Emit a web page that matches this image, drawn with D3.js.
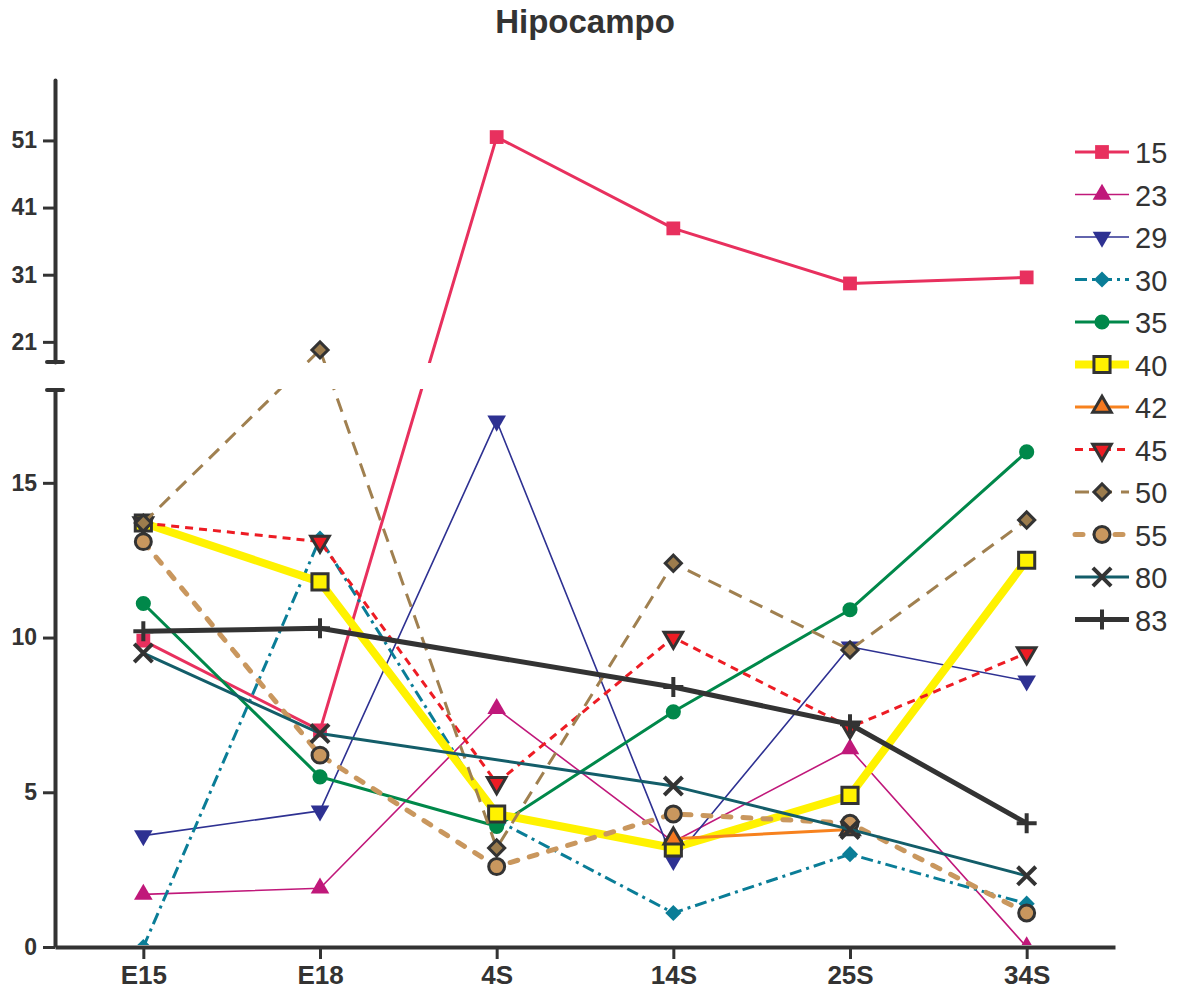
<!DOCTYPE html>
<html lang="en">
<head>
<meta charset="utf-8" />
<script src="https://d3js.org/d3.v7.min.js"></script>
<style>
  body { margin: 0; background: #fff; }
  text { font-family: "Liberation Sans", Arial, sans-serif; fill: #333; }
</style>
</head>
<body>
<script>
const categories = ["E15", "E18", "4S", "14S", "25S", "34S"];
const seriesNames = ["15", "23", "29", "30", "35", "40", "42", "45", "50", "55", "80", "83"];
const s15 = [9.9, 7.0, 51.5, 37.9, 29.7, 30.6];
const s23 = [1.7, 1.9, 7.7, 3.4, 6.4, 0];
const s29 = [3.6, 4.4, 17.0, 2.8, 9.7, 8.6];
const s30 = [0, 13.2, 4.1, 1.1, 3.0, 1.4];
const s35 = [11.1, 5.5, 3.9, 7.6, 10.9, 16.0];
const s40 = [13.7, 11.8, 4.3, 3.2, 4.9, 12.5];
const s42 = [null, null, null, 3.5, 3.8, null];
const s45 = [13.7, 13.1, 5.3, 10.0, 7.1, 9.5];
const s50 = [13.7, 19.8, 3.2, 12.4, 9.6, 13.8];
const s55 = [13.1, 6.2, 2.6, 4.3, 4.0, 1.1];
const s80 = [9.5, 6.9, null, 5.2, 3.8, 2.3];
const s83 = [10.2, 10.3, null, 8.4, 7.2, 4.0];
const lowTicks = [0, 5, 10, 15];
const highTicks = [21, 31, 41, 51];

const w = 1187, h = 991;
const axisColor = "#333";

// style per series: line colour, width, dash, marker shape, marker fill, marker stroke
const styles = [
    { c: "#e8305e", lw: 3, dash: null, m: "square", size: 190, fill: "#e8305e", st: "none" },
    { c: "#c0187a", lw: 1.6, dash: null, m: "up", size: 150, fill: "#c0187a", st: "none" },
    { c: "#2e3192", lw: 1.6, dash: null, m: "down", size: 150, fill: "#2e3192", st: "none" },
    { c: "#0a7d97", lw: 3, dash: "12,5,3,5", m: "diamond", size: 130, fill: "#0a7d97", st: "none" },
    { c: "#00884a", lw: 3, dash: null, m: "circle", size: 180, fill: "#00884a", st: "none" },
    { c: "#fff200", lw: 8, dash: null, m: "square", size: 260, fill: "#fff200", st: "#333" },
    { c: "#f7821e", lw: 3, dash: null, m: "up", size: 150, fill: "#f47920", st: "#333" },
    { c: "#ed1c24", lw: 3, dash: "8,6", m: "down", size: 150, fill: "#ed1c24", st: "#333" },
    { c: "#a08050", lw: 3, dash: "14,9", m: "diamond", size: 130, fill: "#9c7c4d", st: "#333" },
    { c: "#c9975e", lw: 5, dash: "8,12", m: "circle", size: 200, fill: "#c9975e", st: "#333" },
    { c: "#135d69", lw: 3, dash: null, m: "x", size: 26, fill: "none", st: "#333" },
    { c: "#333333", lw: 5, dash: null, m: "plus", size: 20, fill: "none", st: "#333" }
];
const allSeries = [s15, s23, s29, s30, s35, s40, s42, s45, s50, s55, s80, s83];

const x = d3.scalePoint().domain(categories).range([55, 1115]).padding(0.5);
const yLow = d3.scaleLinear().domain([0, 18]).range([947, 390]);
const yHigh = d3.scaleLinear().domain([18, 60]).range([362, 80]);
const y = v => v <= 18 ? yLow(v) : yHigh(v);

const svg = d3.select("body").append("svg")
    .attr("width", w)
    .attr("height", h);

svg.append("text")
    .attr("x", 585)
    .attr("y", 33)
    .attr("text-anchor", "middle")
    .style("font-size", "33px")
    .style("font-weight", "bold")
    .text("Hipocampo");

svg.append("clipPath").attr("id", "plot")
    .append("rect").attr("x", 0).attr("y", 0).attr("width", w).attr("height", 945);

function markerPath(m, size) {
    if (m === "square") return d3.symbol(d3.symbolSquare, size)();
    if (m === "up") return d3.symbol(d3.symbolTriangle, size)();
    if (m === "down") return d3.symbol(d3.symbolTriangle, size)();
    if (m === "diamond") return d3.symbol(d3.symbolSquare, size)();
    if (m === "circle") return d3.symbol(d3.symbolCircle, size)();
    const r = size / 2;
    if (m === "x") return `M${-r * 0.7},${-r * 0.7}L${r * 0.7},${r * 0.7}M${-r * 0.7},${r * 0.7}L${r * 0.7},${-r * 0.7}`;
    return `M${-r},0L${r},0M0,${-r}L0,${r}`;
}
function markerRotate(m) {
    if (m === "down") return 180;
    if (m === "diamond") return 45;
    return 0;
}

function drawMarker(g, st, cx, cy) {
    const p = g.append("path")
        .attr("d", markerPath(st.m, st.size))
        .attr("transform", `translate(${cx},${cy}) rotate(${markerRotate(st.m)})`);
    if (st.m === "x" || st.m === "plus") {
        p.attr("fill", "none").attr("stroke", st.st).attr("stroke-width", 4);
    } else {
        p.attr("fill", st.fill)
            .attr("stroke", st.st)
            .attr("stroke-width", st.st === "none" ? 0 : 3)
            .attr("stroke-linejoin", "miter");
    }
}

const plot = svg.append("g").attr("clip-path", "url(#plot)");
const line = d3.line().x(d => x(d.cat)).y(d => y(d.v));

allSeries.forEach((vals, i) => {
    const st = styles[i];
    const pts = vals.map((v, j) => ({ cat: categories[j], v: v })).filter(d => d.v !== null);
    const g = plot.append("g");
    g.append("path")
        .attr("d", line(pts))
        .attr("fill", "none")
        .attr("stroke", st.c)
        .attr("stroke-width", st.lw)
        .attr("stroke-dasharray", st.dash)
        .attr("stroke-linecap", st.dash && st.lw >= 5 ? "round" : "butt")
        .attr("stroke-linejoin", "round");
    pts.forEach(d => drawMarker(g, st, x(d.cat), y(d.v)));
});

// axis break mask
svg.append("rect")
    .attr("x", 57).attr("y", 363)
    .attr("width", 1005).attr("height", 26)
    .attr("fill", "#fff");

function styleAxis(g, size) {
    g.selectAll("path.domain").attr("stroke", axisColor).attr("stroke-width", 4).attr("stroke-linecap", "round");
    g.selectAll(".tick line").attr("stroke", axisColor).attr("stroke-width", 3);
    g.selectAll(".tick text")
        .style("font-size", size + "px")
        .style("font-weight", "bold")
        .attr("fill", axisColor);
}

const gLow = svg.append("g")
    .attr("transform", "translate(55,0)")
    .call(d3.axisLeft(yLow).tickValues(lowTicks).tickSizeInner(12).tickSizeOuter(0).tickPadding(6));
styleAxis(gLow, 23);
gLow.select("path.domain").attr("stroke-linecap", "butt");

const gHigh = svg.append("g")
    .attr("transform", "translate(55,0)")
    .call(d3.axisLeft(yHigh).tickValues(highTicks).tickSizeInner(12).tickSizeOuter(0).tickPadding(6));
styleAxis(gHigh, 23);

// break caps
[yLow(18), yHigh(18)].forEach(cy => {
    svg.append("line")
        .attr("x1", 47).attr("x2", 63)
        .attr("y1", cy).attr("y2", cy)
        .attr("stroke", axisColor)
        .attr("stroke-width", 4)
        .attr("stroke-linecap", "round");
});

const gx = svg.append("g")
    .attr("transform", "translate(0,947)")
    .call(d3.axisBottom(x).tickSizeInner(12).tickSizeOuter(0).tickPadding(7));
styleAxis(gx, 26);
gx.select("path.domain").attr("stroke-linecap", "butt");

// legend
const legend = svg.append("g");
seriesNames.forEach((name, i) => {
    const st = styles[i];
    const ly = 152 + i * 42.5;
    const g = legend.append("g");
    g.append("line")
        .attr("x1", 1075).attr("x2", 1129)
        .attr("y1", ly).attr("y2", ly)
        .attr("stroke", st.c)
        .attr("stroke-width", st.lw)
        .attr("stroke-dasharray", st.dash)
        .attr("stroke-linecap", st.dash && st.lw >= 5 ? "round" : "butt");
    drawMarker(g, st, 1102, ly);
    g.append("text")
        .attr("x", 1135)
        .attr("y", ly + 11)
        .style("font-size", "29px")
        .text(name);
});
</script>
</body>
</html>
